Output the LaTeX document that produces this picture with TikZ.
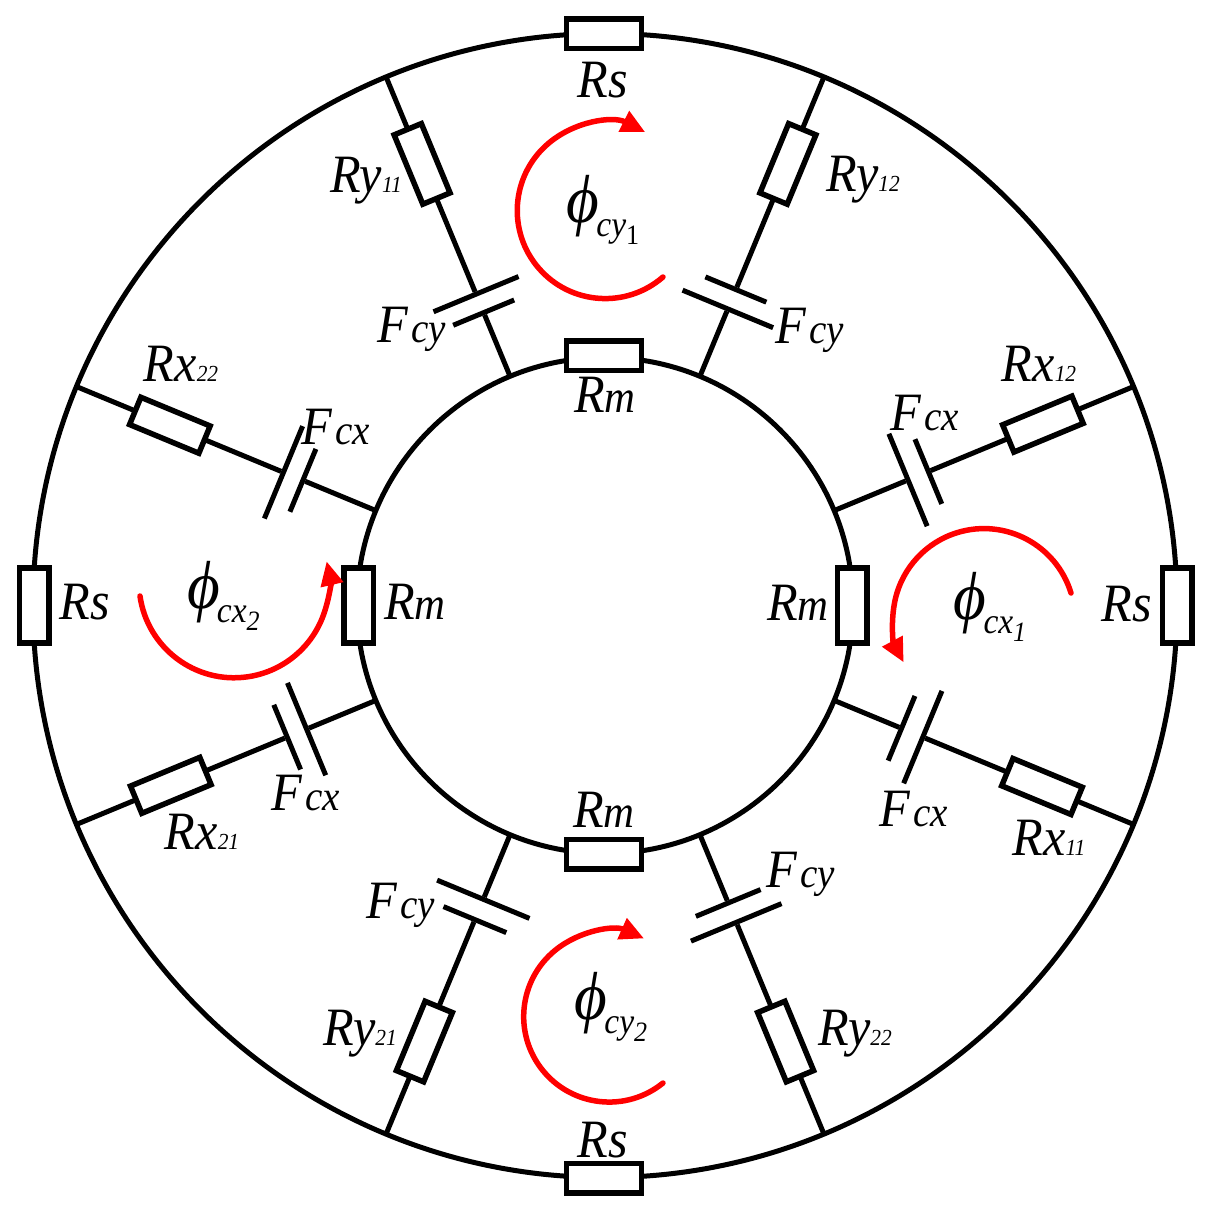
\documentclass[tikz,border=0pt]{standalone}
\usepackage{fontspec}
\setmainfont[FakeStretch=0.93]{Liberation Serif}
\usetikzlibrary{arrows.meta}
\newcommand{\Rlab}[2]{R#1{\fontsize{23}{23}\selectfont #2}}
\newcommand{\Mlab}{R{\fontsize{46}{46}\selectfont m}}
\newcommand{\Flab}[1]{F\kern3pt{\fontsize{42}{42}\selectfont #1}}
\newcommand{\Phlab}[2]{{\fontsize{68}{68}\selectfont ϕ}\kern-3pt\raisebox{-14pt}{\fontsize{36}{36}\selectfont #1}\raisebox{-22pt}{\fontsize{28}{28}\selectfont #2}}
\tikzset{ring/.style={circle, draw, line width=5pt, inner sep=0pt, outer sep=0pt}}
\tikzset{res/.style={rectangle, draw, fill=white, line width=5.5pt, inner sep=0pt, outer sep=0pt, minimum width=75pt, minimum height=29.5pt}}
\tikzset{plate/.style={rectangle, fill=black, inner sep=0pt, outer sep=0pt, minimum width=5pt}}
\tikzset{wire/.style={line width=5pt}}
\tikzset{flux/.style={red, line width=5.5pt, line cap=round, -{Triangle[length=24pt,width=22pt]}}}
\tikzset{lab/.style={anchor=base, inner sep=0pt, font=\fontsize{54}{54}\selectfont\itshape}}
\begin{document}
\begin{tikzpicture}[x=1pt,y=1pt]
    \useasboundingbox (-605,-608.5) rectangle (601,605.5);

    \node[ring, minimum size=1144pt] (outer) at (0,0) {};
    \node[ring, minimum size=496pt] (inner) at (0,0) {};

    % branch ends on the two rings
    \coordinate (oy11) at (112.5:572); \coordinate (iy11) at (112.5:248);
    \coordinate (oy12) at (67.5:572);  \coordinate (iy12) at (67.5:248);
    \coordinate (ox12) at (22.5:572);  \coordinate (ix12) at (22.5:248);
    \coordinate (ox11) at (-22.5:572); \coordinate (ix11) at (-22.5:248);
    \coordinate (ox22) at (157.5:572); \coordinate (ix22) at (157.5:248);
    \coordinate (ox21) at (202.5:572); \coordinate (ix21) at (202.5:248);
    \coordinate (oy21) at (247.5:572); \coordinate (iy21) at (247.5:248);
    \coordinate (oy22) at (292.5:572); \coordinate (iy22) at (292.5:248);

    % resistors on the two rings
    \node[res] (rst) at (-1,571.5) {};
    \node[res] (rsb) at (-1,-572.5) {};
    \node[res, rotate=90] (rsl) at (-570.5,0) {};
    \node[res, rotate=90] (rsr) at (572,0) {};
    \node[res] (rmt) at (-1,249.5) {};
    \node[res] (rmb) at (-1,-248.5) {};
    \node[res, rotate=90] (rml) at (-246,0) {};
    \node[res, rotate=90] (rmr) at (247,0) {};

    % radial resistors
    \node[res, rotate=112.5] (ry11) at (112.5:478) {};
    \node[res, rotate=67.5] (ry12) at (67.5:478) {};
    \node[res, rotate=22.5] (rx12) at (22.5:474) {};
    \node[res, rotate=-22.5] (rx11) at (-22.5:473) {};
    \node[res, rotate=157.5] (rx22) at (157.5:471) {};
    \node[res, rotate=202.5] (rx21) at (202.5:470) {};
    \node[res, rotate=247.5] (ry21) at (247.5:472) {};
    \node[res, rotate=292.5] (ry22) at (292.5:472) {};

    % capacitor plates
    \node[plate, rotate=112.5, minimum height=66pt] (fy11i) at (112.5:317) {};
    \node[plate, rotate=112.5, minimum height=92pt] (fy11o) at (112.5:337) {};
    \node[plate, rotate=67.5, minimum height=98pt] (fy12i) at (67.5:321) {};
    \node[plate, rotate=67.5, minimum height=66pt] (fy12o) at (67.5:342) {};
    \node[plate, rotate=22.5, minimum height=100pt] (fx12i) at (22.5:328) {};
    \node[plate, rotate=22.5, minimum height=70pt] (fx12o) at (22.5:350) {};
    \node[plate, rotate=-22.5, minimum height=70pt] (fx11i) at (-22.5:321) {};
    \node[plate, rotate=-22.5, minimum height=100pt] (fx11o) at (-22.5:344) {};
    \node[plate, rotate=157.5, minimum height=68pt] (fx22i) at (157.5:327) {};
    \node[plate, rotate=157.5, minimum height=100pt] (fx22o) at (157.5:348) {};
    \node[plate, rotate=202.5, minimum height=100pt] (fx21i) at (202.5:323) {};
    \node[plate, rotate=202.5, minimum height=70pt] (fx21o) at (202.5:344) {};
    \node[plate, rotate=247.5, minimum height=100pt] (fy21i) at (247.5:318) {};
    \node[plate, rotate=247.5, minimum height=68pt] (fy21o) at (247.5:340) {};
    \node[plate, rotate=292.5, minimum height=70pt] (fy22i) at (292.5:322) {};
    \node[plate, rotate=292.5, minimum height=98pt] (fy22o) at (292.5:343) {};

    % branches
    \draw[wire] (oy11) -- (ry11) -- (fy11o) (fy11i) -- (iy11);
    \draw[wire] (oy12) -- (ry12) -- (fy12o) (fy12i) -- (iy12);
    \draw[wire] (ox12) -- (rx12) -- (fx12o) (fx12i) -- (ix12);
    \draw[wire] (ox11) -- (rx11) -- (fx11o) (fx11i) -- (ix11);
    \draw[wire] (ox22) -- (rx22) -- (fx22o) (fx22i) -- (ix22);
    \draw[wire] (ox21) -- (rx21) -- (fx21o) (fx21i) -- (ix21);
    \draw[wire] (oy21) -- (ry21) -- (fy21o) (fy21i) -- (iy21);
    \draw[wire] (oy22) -- (ry22) -- (fy22o) (fy22i) -- (iy22);

    % fluxes
    \draw[flux] (58,328.5) arc (-49:-297:88);
    \draw[flux] (58,-477.5) arc (-51:-294:85.5);
    \draw[flux] (-465,9.5) arc (188:373:95);
    \draw[flux] (466,12.5) arc (17:208:91);

    % labels
    \node[lab] (lrst) at (-2,507.5) {Rs};
    \node[lab] (lrsb) at (-2,-551.5) {Rs};
    \node[lab] (lrmt) at (0,192.5) {\Mlab};
    \node[lab] (lrmb) at (-1,-221.5) {\Mlab};
    \node[lab] (lrsl) at (-520,-14.5) {Rs};
    \node[lab] (lrml) at (-190,-14.5) {\Mlab};
    \node[lab] (lrmr) at (193,-15.5) {\Mlab};
    \node[lab] (lrsr) at (522,-16.5) {Rs};
    \node[lab] (lry11) at (-239,412.5) {\Rlab{y}{11}};
    \node[lab] (lry12) at (258,413.5) {\Rlab{y}{12}};
    \node[lab] (lrx22) at (-424,223.5) {\Rlab{x}{22}};
    \node[lab] (lrx12) at (434,223.5) {\Rlab{x}{12}};
    \node[lab] (lrx11) at (444,-249.5) {\Rlab{x}{11}};
    \node[lab] (lrx21) at (-403,-243.5) {\Rlab{x}{21}};
    \node[lab] (lry21) at (-245,-439.5) {\Rlab{y}{21}};
    \node[lab] (lry22) at (250,-439.5) {\Rlab{y}{22}};
    \node[lab] (lfy11) at (-193,262.5) {\Flab{cy}};
    \node[lab] (lfy12) at (205,261.5) {\Flab{cy}};
    \node[lab] (lfx22) at (-269,160.5) {\Flab{cx}};
    \node[lab] (lfx12) at (320,174.5) {\Flab{cx}};
    \node[lab] (lfx11) at (309,-220.5) {\Flab{cx}};
    \node[lab] (lfx21) at (-299,-204.5) {\Flab{cx}};
    \node[lab] (lfy21) at (-204,-312.5) {\Flab{cy}};
    \node[lab] (lfy22) at (196,-281.5) {\Flab{cy}};
    \node[lab] (lcy1) at (-2,382.5) {\Phlab{cy}{\upshape 1}};
    \node[lab] (lcy2) at (6,-413.5) {\Phlab{cy}{2}};
    \node[lab] (lcx2) at (-381.5,-3.5) {\Phlab{cx}{2}};
    \node[lab] (lcx1) at (385,-14.5) {\Phlab{cx}{1}};

  \end{tikzpicture}
\end{document}
